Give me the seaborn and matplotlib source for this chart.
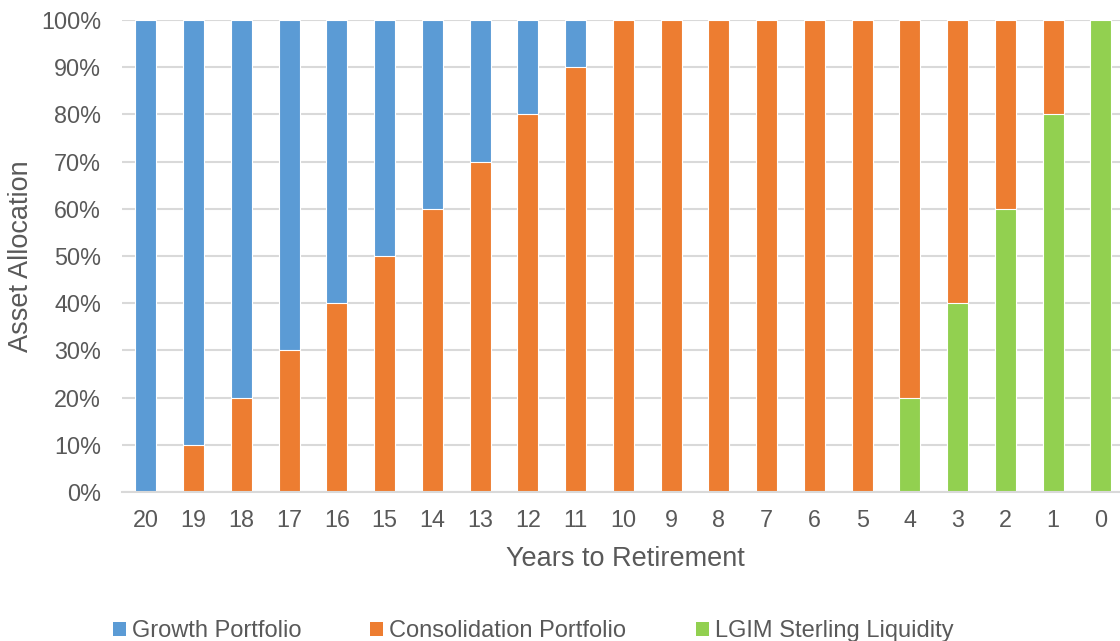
import matplotlib
matplotlib.use("Agg")
import matplotlib.pyplot as plt
from matplotlib.patches import Patch
from matplotlib.ticker import FuncFormatter
import seaborn as sns
import pandas as pd
import numpy as np

# Glide path: allocation (%) by years to retirement
years = [20, 19, 18, 17, 16, 15, 14, 13, 12, 11, 10, 9, 8, 7, 6, 5, 4, 3, 2, 1, 0]
growth = [100, 90, 80, 70, 60, 50, 40, 30, 20, 10, 0, 0, 0, 0, 0, 0, 0, 0, 0, 0, 0]
consolidation = [0, 10, 20, 30, 40, 50, 60, 70, 80, 90, 100, 100, 100, 100, 100, 100, 80, 60, 40, 20, 0]
liquidity = [0, 0, 0, 0, 0, 0, 0, 0, 0, 0, 0, 0, 0, 0, 0, 0, 20, 40, 60, 80, 100]

series_names = ["Growth Portfolio", "Consolidation Portfolio", "LGIM Sterling Liquidity"]
colors = ["#5B9BD5", "#ED7D31", "#92D050"]
text_color = "#595959"
grid_color = "#D9D9D9"
tick_size = 16.8
label_size = 19.5
legend_size = 17

sns.set_theme(style="white")
plt.rcParams["font.family"] = ["Liberation Sans", "DejaVu Sans"]

df = pd.DataFrame({
    "year": [str(y) for y in years],
    "growth": growth,
    "consolidation": consolidation,
    "liquidity": liquidity,
})
df["lvl_green"] = df["liquidity"] / 100
df["lvl_orange"] = (df["liquidity"] + df["consolidation"]) / 100
df["lvl_blue"] = (df["liquidity"] + df["consolidation"] + df["growth"]) / 100
order = [str(y) for y in years]

W, H = 1120, 641
fig = plt.figure(figsize=(W / 100, H / 100), dpi=100)
ax = fig.add_axes([122 / W, 149 / H, 998 / W, 472 / H])

# stacked bars: draw cumulative totals from the top layer down
for col, c in [("lvl_blue", colors[0]), ("lvl_orange", colors[1]), ("lvl_green", colors[2])]:
    sns.barplot(data=df, x="year", y=col, order=order, color=c, saturation=1,
                width=0.44, edgecolor="white", linewidth=0.8, ax=ax, zorder=3)

ax.set_xlim(-0.5, 20.4)
ax.set_ylim(0, 1.0)
ax.set_yticks(np.arange(0, 1.01, 0.1))
ax.yaxis.set_major_formatter(FuncFormatter(lambda v, p: f"{v * 100:.0f}%"))
ax.grid(axis="y", color=grid_color, linewidth=1.5, zorder=0)
ax.set_axisbelow(True)
for s in ["top", "right", "left"]:
    ax.spines[s].set_visible(False)
ax.spines["bottom"].set_color(grid_color)
ax.spines["bottom"].set_linewidth(1.5)
ax.spines["bottom"].set_zorder(4)
ax.tick_params(axis="both", length=0, labelsize=tick_size, colors=text_color)
ax.tick_params(axis="x", pad=12)
ax.tick_params(axis="y", pad=15)
ax.set_xlabel("")
ax.set_ylabel("")

# axis titles
fig.text(625 / W, 1 - 559 / H, "Years to Retirement", fontsize=label_size,
         color=text_color, ha="center", va="center")
fig.text(21 / W, 1 - 256 / H, "Asset Allocation", fontsize=label_size,
         color=text_color, ha="center", va="center", rotation=90)

# legend entries placed along the bottom of the figure
legend_x = [113, 370, 696]
for name, c, x0 in zip(series_names, colors, legend_x):
    fig.legend([Patch(facecolor=c, edgecolor="none")], [name],
               loc="center left", bbox_to_anchor=(x0 / W, 1 - 631 / H),
               frameon=False, fontsize=legend_size, labelcolor=text_color,
               handlelength=0.55, handleheight=0.55, handletextpad=0.25,
               borderaxespad=0, borderpad=0)

fig.savefig("out.png", dpi=100)
